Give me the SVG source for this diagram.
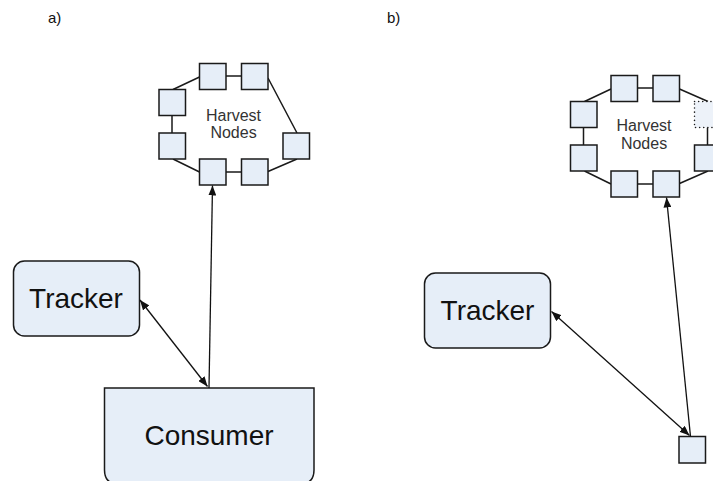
<svg xmlns="http://www.w3.org/2000/svg" width="713" height="481" viewBox="0 0 713 481">
  <style>
    .sq { fill: #e6eef8; stroke: #1a1a1a; stroke-width: 1.5; }
    .box { fill: #e6eef8; stroke: #1a1a1a; stroke-width: 1.5; }
    .ghost { fill: #edf2f9; stroke: #1a1a1a; stroke-width: 1.5; stroke-dasharray: 0.1 4; stroke-linecap: round; }
    .ring { stroke: #1a1a1a; stroke-width: 1.5; fill: none; }
    .link { stroke: #111; stroke-width: 1.3; fill: none; }
    .lbl { font-family: "Liberation Sans", Arial, sans-serif; fill: #111; }
    .hv { font-family: "Liberation Sans", Arial, sans-serif; font-size: 16px; fill: #333; text-anchor: middle; }
    .big { font-family: "Liberation Sans", Arial, sans-serif; font-size: 28px; fill: #111; text-anchor: middle; }
  </style>
  <defs>
    <marker id="head" viewBox="0 0 10 8" refX="10" refY="4" markerWidth="10" markerHeight="8" markerUnits="userSpaceOnUse" orient="auto-start-reverse">
      <path d="M0,0 L10,4 L0,8 z" fill="#111"/>
    </marker>
  </defs>

  <!-- panel labels -->
  <text class="lbl" x="48" y="23" font-size="15">a)</text>
  <text class="lbl" x="387" y="23" font-size="15">b)</text>

  <!-- ===== panel a ===== -->
  <g id="ringA-links">
    <path class="ring" d="M173,89.5 L199.5,77 M226,76 L241.5,76 M268,78 L297,133 M172,115.5 L172,133 M173,159 L199.5,172 M226,172 L241.5,172 M268,171.5 L297,159"/>
  </g>
  <g id="harvestA">
    <rect id="a-n1" class="sq" x="199.5" y="63.5" width="26.5" height="26"/>
    <rect id="a-n2" class="sq" x="241.5" y="63.5" width="26.5" height="26"/>
    <rect id="a-n3" class="sq" x="159" y="89.5" width="26.5" height="26"/>
    <rect id="a-n4" class="sq" x="159" y="133" width="26.5" height="26"/>
    <rect id="a-n5" class="sq" x="283" y="133" width="26.5" height="26"/>
    <rect id="a-n6" class="sq" x="199.5" y="159" width="26.5" height="26"/>
    <rect id="a-n7" class="sq" x="241.5" y="159" width="26.5" height="26"/>
    <text class="hv" x="233.5" y="120.5">Harvest</text>
    <text class="hv" x="233.5" y="138">Nodes</text>
  </g>
  <g id="trackerA">
    <rect class="box" x="13.5" y="261" width="126" height="75" rx="11"/>
    <text class="big" x="76" y="308">Tracker</text>
  </g>
  <g id="consumerA">
    <path class="box" d="M104.5,388 L314,388 L314,470 Q314,484 300,484 L118.5,484 Q104.5,484 104.5,470 Z"/>
    <text class="big" x="209" y="445">Consumer</text>
  </g>

  <!-- ===== panel b ===== -->
  <g id="ringB-links">
    <path class="ring" d="M584.5,101.5 L611,89 M637.5,88 L653,88 M679.5,89 L708,101.5 M583.5,127.5 L583.5,145 M707.5,127.5 L707.5,145 M584.5,171 L611,184 M637.5,184 L653,184 M679.5,183.5 L708,171"/>
  </g>
  <g id="harvestB">
    <rect id="b-n1" class="sq" x="611" y="75.5" width="26.5" height="26"/>
    <rect id="b-n2" class="sq" x="653" y="75.5" width="26.5" height="26"/>
    <rect id="b-n3" class="sq" x="570.5" y="101.5" width="26.5" height="26"/>
    <rect id="b-n4" class="sq" x="570.5" y="145" width="26.5" height="26"/>
    <rect id="b-n5" class="sq" x="694.5" y="145" width="26.5" height="26"/>
    <rect id="b-n6" class="sq" x="611" y="171" width="26.5" height="26"/>
    <rect id="b-n7" class="sq" x="653" y="171" width="26.5" height="26"/>
    <rect id="b-n8" class="ghost" x="694.5" y="101.5" width="26.5" height="26"/>
    <text class="hv" x="644" y="131">Harvest</text>
    <text class="hv" x="644" y="148.5">Nodes</text>
  </g>
  <g id="trackerB">
    <rect class="box" x="424.5" y="273" width="126" height="75" rx="11"/>
    <text class="big" x="487.5" y="320">Tracker</text>
  </g>
  <g id="consumerB">
    <rect class="sq" x="679" y="436.5" width="26.5" height="26.5"/>
  </g>

  <!-- connectors -->
  <g id="connectors">
    <line class="link" x1="209" y1="388" x2="212.5" y2="185.5" marker-end="url(#head)"/>
    <line class="link" x1="140" y1="300" x2="207.5" y2="386.5" marker-start="url(#head)" marker-end="url(#head)"/>
    <line class="link" x1="690.5" y1="436.5" x2="666.5" y2="197.5" marker-end="url(#head)"/>
    <line class="link" x1="551.5" y1="311.5" x2="689.5" y2="435.5" marker-start="url(#head)" marker-end="url(#head)"/>
  </g>
</svg>
